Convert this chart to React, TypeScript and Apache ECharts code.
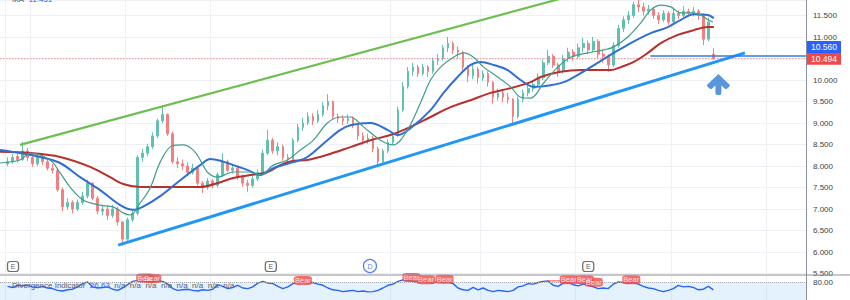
import React, { useEffect, useRef } from 'react';
import * as echarts from 'echarts';

const FONT = '"Liberation Sans", Arial, sans-serif';

// category slots (daily bars); labels are hidden in the picture
const barIndex: string[] = Array.from({ length: 161 }, (_, i) => String(i));

// [open, close, low, high]
const candles: any[] = [
  '-',
  [8.05, 8.10, 8.00, 8.20], [8.10, 8.20, 8.05, 8.28], [8.22, 8.15, 8.08, 8.30], [8.15, 8.35, 8.12, 8.56],
  [8.35, 8.20, 8.12, 8.42], [8.20, 8.05, 7.98, 8.25], [8.05, 8.20, 8.00, 8.28], [8.20, 8.10, 8.02, 8.26],
  [8.10, 7.95, 7.90, 8.18], [7.95, 7.90, 7.82, 8.05], [7.90, 7.45, 7.40, 7.95], [7.45, 7.05, 6.95, 7.50],
  [7.05, 7.15, 6.98, 7.25], [7.15, 7.00, 6.90, 7.20], [7.00, 7.15, 6.95, 7.22], [7.15, 7.30, 7.10, 7.40],
  [7.30, 7.60, 7.25, 7.68], [7.60, 7.25, 7.20, 7.62], [7.25, 6.95, 6.88, 7.30], [6.95, 7.00, 6.85, 7.10],
  [7.00, 6.85, 6.75, 7.08], [6.85, 7.00, 6.80, 7.10], [7.00, 6.70, 6.62, 7.05], [6.70, 6.30, 6.15, 6.72],
  [6.30, 6.75, 6.25, 6.80], [6.75, 6.90, 6.70, 7.00], [6.90, 8.20, 6.85, 8.25], [8.20, 8.30, 8.10, 8.40],
  [8.30, 8.45, 8.22, 8.52], [8.45, 8.70, 8.40, 8.78], [8.70, 9.05, 8.65, 9.10], [9.05, 9.20, 9.00, 9.42],
  [9.20, 8.75, 8.70, 9.22], [8.75, 8.10, 8.05, 8.80], [8.10, 8.05, 7.95, 8.20], [8.05, 8.00, 7.90, 8.15],
  [8.00, 7.85, 7.78, 8.08], [7.85, 7.95, 7.80, 8.05], [7.95, 7.60, 7.55, 7.98], [7.60, 7.50, 7.37, 7.65],
  [7.50, 7.65, 7.45, 7.72], [7.65, 7.55, 7.48, 7.70], [7.55, 7.80, 7.50, 7.85], [7.80, 8.10, 7.75, 8.30],
  [8.10, 7.90, 7.85, 8.15], [7.90, 7.95, 7.82, 8.05], [7.95, 7.75, 7.68, 8.00], [7.75, 7.60, 7.52, 7.80],
  [7.60, 7.55, 7.40, 7.68], [7.55, 7.70, 7.50, 7.78], [7.70, 7.85, 7.65, 7.92], [7.85, 8.30, 7.82, 8.38],
  [8.30, 8.60, 8.25, 8.84], [8.60, 8.35, 8.28, 8.65], [8.35, 8.45, 8.25, 8.55], [8.45, 8.20, 8.12, 8.50],
  [8.20, 8.15, 8.02, 8.28], [8.15, 8.60, 8.10, 8.65], [8.60, 8.90, 8.55, 8.98], [8.90, 9.00, 8.82, 9.12],
  [9.00, 9.15, 8.95, 9.25], [9.15, 9.05, 8.95, 9.22], [9.05, 9.20, 9.00, 9.30], [9.20, 9.40, 9.15, 9.48],
  [9.40, 9.50, 9.30, 9.67], [9.50, 9.15, 9.08, 9.52], [9.15, 9.10, 9.00, 9.22], [9.10, 9.05, 8.95, 9.18],
  [9.05, 9.10, 8.98, 9.20], [9.10, 8.95, 8.88, 9.15], [8.95, 8.70, 8.60, 8.98], [8.70, 8.60, 8.50, 8.78],
  [8.60, 8.65, 8.52, 8.75], [8.65, 8.40, 8.32, 8.70], [8.40, 8.10, 8.00, 8.45], [8.10, 8.35, 8.05, 8.40],
  [8.35, 8.55, 8.30, 8.62], [8.55, 8.70, 8.50, 8.78], [8.70, 9.30, 8.68, 9.38], [9.30, 9.85, 9.25, 9.95],
  [9.85, 10.20, 9.80, 10.30], [10.20, 10.30, 10.10, 10.40], [10.30, 10.15, 10.07, 10.35], [10.15, 10.30, 10.10, 10.38],
  [10.30, 10.20, 10.07, 10.35], [10.20, 10.45, 10.15, 10.52], [10.45, 10.50, 10.35, 10.60], [10.50, 10.75, 10.45, 10.82],
  [10.75, 10.85, 10.65, 11.00], [10.85, 10.70, 10.60, 10.90], [10.70, 10.65, 10.50, 10.78], [10.65, 10.30, 10.22, 10.68],
  [10.30, 10.10, 9.95, 10.35], [10.10, 10.25, 10.02, 10.35], [10.25, 10.05, 9.92, 10.30], [10.05, 10.15, 9.98, 10.22],
  [10.15, 9.95, 9.85, 10.20], [9.95, 9.60, 9.45, 9.98], [9.60, 9.70, 9.52, 9.80], [9.70, 9.60, 9.48, 9.78],
  [9.60, 9.55, 9.45, 9.70], [9.55, 9.15, 9.00, 9.58], [9.15, 9.55, 9.10, 9.62], [9.55, 9.70, 9.48, 9.78],
  [9.70, 9.80, 9.62, 9.92], [9.80, 9.90, 9.72, 10.00], [9.90, 10.05, 9.85, 10.15], [10.05, 10.40, 10.00, 10.48],
  [10.40, 10.55, 10.35, 10.70], [10.55, 10.35, 10.28, 10.60], [10.35, 10.20, 10.07, 10.40], [10.20, 10.50, 10.15, 10.58],
  [10.50, 10.65, 10.42, 10.75], [10.65, 10.55, 10.45, 10.72], [10.55, 10.75, 10.50, 10.85], [10.75, 10.85, 10.65, 10.98],
  [10.85, 10.70, 10.60, 10.92], [10.70, 10.90, 10.65, 11.00], [10.90, 10.60, 10.50, 10.95], [10.60, 10.55, 10.40, 10.68],
  [10.55, 10.35, 10.19, 10.60], [10.35, 10.80, 10.30, 10.88], [10.80, 11.20, 10.75, 11.28], [11.20, 11.40, 11.12, 11.48],
  [11.40, 11.50, 11.30, 11.60], [11.50, 11.75, 11.45, 11.82], [11.75, 11.70, 11.58, 11.88], [11.70, 11.60, 11.50, 11.80],
  [11.60, 11.65, 11.52, 11.75], [11.65, 11.50, 11.42, 11.70], [11.50, 11.40, 11.30, 11.58], [11.40, 11.55, 11.35, 11.62],
  [11.55, 11.35, 11.28, 11.60], [11.35, 11.55, 11.30, 11.65], [11.55, 11.50, 11.42, 11.62], [11.50, 11.60, 11.45, 11.72],
  [11.60, 11.55, 11.48, 11.66], [11.55, 11.60, 11.48, 11.70], [11.60, 11.50, 11.40, 11.65], [11.50, 10.95, 10.81, 11.55],
  [10.95, 11.35, 10.90, 11.45], [10.60, 10.494, 10.47, 10.74],
];

// moving averages, [bar position, value]
const maFast: number[][] = [
  [-0.5, 8.07], [3.5, 8.14], [5.5, 8.30], [9.5, 8.14], [11.5, 7.84], [13.5, 7.51], [16.1, 7.21], [19.5, 7.09],
  [22.1, 7.05], [24.1, 6.91], [25.5, 6.86], [27.5, 7.14], [29.5, 7.49], [31.5, 8.09], [33.9, 8.47], [36.1, 8.49],
  [38.1, 8.37], [39.5, 8.14], [40.9, 7.86], [42.9, 7.74], [46.1, 7.86], [49.5, 7.86], [51.5, 7.79], [54.1, 8.02],
  [56.9, 8.14], [59.5, 8.37], [62.1, 8.60], [64.9, 9.00], [67.5, 9.14], [69.5, 9.14], [72.1, 8.91], [75.5, 8.60],
  [78.1, 8.49], [80.9, 8.84], [83.5, 9.47], [85.5, 10.00], [87.5, 10.30], [90.1, 10.53], [92.1, 10.63], [94.1, 10.53],
  [96.1, 10.30], [98.9, 10.07], [101.5, 9.84], [103.5, 9.60], [105.5, 9.58], [108.1, 9.93], [110.9, 10.30], [113.5, 10.53],
  [116.9, 10.63], [120.1, 10.70], [122.1, 10.77], [124.9, 11.00], [127.5, 11.33], [129.5, 11.63], [131.5, 11.74],
  [133.5, 11.70], [135.5, 11.56], [137.5, 11.56], [139.5, 11.51], [140.9, 11.40], [141.9, 11.35],
];
const maMid: number[][] = [
  [-0.5, 8.37], [3.5, 8.30], [7.5, 8.21], [11.5, 8.07], [15.5, 7.74], [19.5, 7.44], [23.5, 7.09], [26.1, 6.98],
  [28.0, 7.05], [31.5, 7.30], [35.5, 7.67], [39.5, 8.02], [41.5, 8.16], [43.5, 8.12], [46.1, 8.02], [48.9, 7.91],
  [51.5, 7.79], [54.1, 7.95], [58.1, 8.09], [60.9, 8.21], [64.9, 8.60], [67.5, 8.84], [69.5, 8.95], [73.5, 9.00],
  [76.9, 8.84], [78.9, 8.72], [81.5, 8.88], [85.5, 9.30], [88.1, 9.70], [90.9, 10.07], [93.5, 10.35], [95.5, 10.42],
  [98.1, 10.35], [100.9, 10.23], [103.5, 10.00], [106.1, 9.84], [109.5, 9.88], [112.1, 9.95], [115.5, 10.16],
  [118.9, 10.40], [122.1, 10.63], [125.5, 10.86], [129.5, 11.09], [132.9, 11.23], [135.5, 11.40], [138.1, 11.53],
  [140.9, 11.51], [142.1, 11.44],
];
const maSlow: number[][] = [
  [-0.5, 8.33], [5.5, 8.30], [11.5, 8.21], [17.5, 7.98], [21.5, 7.74], [24.1, 7.58], [27.5, 7.51], [32.9, 7.51],
  [39.5, 7.51], [42.9, 7.60], [46.1, 7.72], [49.5, 7.79], [52.9, 7.86], [55.5, 8.02], [58.1, 8.12], [60.9, 8.14],
  [64.9, 8.26], [69.5, 8.44], [73.5, 8.60], [77.5, 8.72], [81.5, 8.91], [85.5, 9.14], [89.5, 9.37], [93.5, 9.53],
  [97.5, 9.70], [101.5, 9.81], [105.5, 9.95], [107.5, 10.07], [111.5, 10.19], [115.5, 10.23], [119.5, 10.23],
  [121.5, 10.23], [123.5, 10.30], [126.1, 10.42], [128.9, 10.63], [131.5, 10.86], [134.9, 11.05], [138.1, 11.16],
  [140.9, 11.23], [142.1, 11.23],
];

// drawn trend lines and price lines
const greenTrend: number[][] = [[3.5, 8.49], [120, 12.16]];
const blueTrend: number[][] = [[23.1, 6.16], [148.3, 10.63]];
const lastPrice = 10.494;
const bidPrice = 10.56;
const lastLine: number[][] = [[-0.5, lastPrice], [160.5, lastPrice]];
const bidLine: number[][] = [[129.4, bidPrice], [160.5, bidPrice]];
const arrowPoint: number[][] = [[143.0, 9.895]];
const earnings: number[][] = [[2.1, 5.663], [53.6, 5.663], [117.0, 5.663]];
const dividends: number[][] = [[73.4, 5.674]];
const monthStarts: number[] = [1, 6, 25, 42, 78, 96, 115, 134, 153];

// divergence indicator panel
const divergence: any[] = [
  '-',
  72.7, 70.9, 74.5, 73.6, 74.5, 71.8, 70.9, 72.7, 70.0, 69.0, 66.0, 65.0, 67.0, 68.0, 71.8, 77.3,
  80.0, 71.8, 70.0, 70.9, 71.8, 68.0, 66.0, 70.0, 75.5, 81.0, 82.7, 81.0, 81.8, 80.0, 81.8, 81.0,
  76.4, 69.0, 66.0, 67.0, 68.0, 66.0, 65.0, 67.0, 66.0, 68.0, 75.5, 72.7, 69.0, 70.9, 74.5, 70.0,
  69.0, 71.8, 78.2, 81.0, 78.2, 77.3, 72.7, 69.0, 71.8, 77.3, 79.1, 80.0, 78.2, 79.1, 76.4, 74.5,
  70.0, 67.0, 66.0, 64.0, 65.0, 66.0, 64.0, 65.0, 63.6, 64.0, 66.0, 70.0, 74.5, 76.4, 81.0, 83.6,
  82.7, 81.0, 79.1, 81.8, 80.0, 78.2, 81.0, 79.1, 80.0, 77.3, 70.0, 67.0, 66.0, 70.9, 67.0, 70.0,
  66.0, 64.0, 66.0, 65.0, 64.0, 66.0, 71.8, 73.6, 77.3, 76.4, 79.1, 81.0, 81.8, 74.5, 72.7, 78.2,
  79.1, 75.5, 73.6, 76.4, 74.5, 71.8, 69.0, 70.0, 69.0, 76.4, 80.0, 79.1, 78.2, 79.1, 76.4, 72.7,
  70.0, 69.0, 66.0, 64.0, 66.0, 69.0, 74.5, 71.8, 72.7, 70.9, 67.0, 68.0, 72.7, 67.0,
];
const bearLabels: number[][] = [
  [28.5, 86.6], [29.9, 86.0], [60.0, 82.3], [81.7, 87.3], [84.6, 83.6],
  [88.3, 84.5], [113.1, 83.6], [116.3, 83.6], [118.1, 79.5], [125.6, 83.6],
];
const bearLink: number[][] = [[108.8, 81.8], [111.8, 81.8]];

const ARROW =
  'path://M12,0 L23,11 Q24,12 23,13 L20.5,15.5 Q19.5,16.5 18.5,15.5 L15,12 L15,20 Q15,22 13,22 L11,22 Q9,22 9,20 L9,12 L5.5,15.5 Q4.5,16.5 3.5,15.5 L1,13 Q0,12 1,11 Z';

export default function App() {
  const ref = useRef<HTMLDivElement>(null);

  useEffect(() => {
    document.body.style.margin = '0';
    if (!ref.current) return;
    const chart = echarts.init(ref.current, undefined, { renderer: 'svg' });
    const gridLine = { show: true, lineStyle: { color: '#edf1f6', width: 1 } };
    const catAxis = (gridIndex: number) => ({
      type: 'category',
      gridIndex,
      data: barIndex,
      boundaryGap: true,
      axisLine: { show: false },
      axisTick: { show: false },
      axisLabel: { show: false },
      splitLine: { ...gridLine, interval: (i: number) => monthStarts.includes(i) },
    });
    const valAxis = (gridIndex: number) => ({
      type: 'value',
      gridIndex,
      min: -0.5,
      max: 160.5,
      show: false,
    });
    const lineSeries = (data: number[][], color: string, width: number, z: number, smooth: any = 0.35) => ({
      type: 'line',
      xAxisIndex: 1,
      yAxisIndex: 0,
      data,
      smooth,
      showSymbol: false,
      silent: true,
      z,
      lineStyle: { color, width },
    });
    const priceTag = (text: string, bg: string, offsetY: number) => ({
      show: true,
      distance: 1,
      offset: [0, offsetY],
      formatter: text,
      backgroundColor: bg,
      color: '#ffffff',
      fontSize: 8.5,
      fontFamily: FONT,
      padding: [2, 4, 1, 4],
      lineHeight: 9,
    });

    chart.setOption({
      animation: false,
      backgroundColor: '#ffffff',
      textStyle: { fontFamily: FONT },
      grid: [
        { left: 0, top: 0, width: 806, height: 273.5 },
        { left: 0, top: 276, width: 806, height: 44 },
      ],
      xAxis: [catAxis(0), valAxis(0), catAxis(1), valAxis(1)],
      yAxis: [
        {
          type: 'value',
          gridIndex: 0,
          position: 'right',
          min: 5.5,
          max: 11.8605,
          interval: 0.5,
          axisLine: { show: false },
          axisTick: { show: false },
          axisLabel: {
            showMaxLabel: false,
            margin: 7,
            fontSize: 8,
            fontFamily: FONT,
            color: '#3c3f47',
            formatter: (v: number) => v.toFixed(3),
          },
          splitLine: { show: true, lineStyle: { color: '#edf1f6', width: 1 } },
        },
        {
          type: 'value',
          gridIndex: 1,
          position: 'right',
          min: 50,
          max: 90,
          interval: 10,
          axisLine: { show: false },
          axisTick: { show: false },
          splitLine: { show: false },
          axisLabel: {
            margin: 7,
            fontSize: 8,
            fontFamily: FONT,
            color: '#3c3f47',
            padding: [0, 0, 8, 0],
            formatter: (v: number) => (v === 80 ? '80.00' : ''),
          },
        },
      ],
      series: [
        {
          type: 'candlestick',
          xAxisIndex: 0,
          yAxisIndex: 0,
          data: candles,
          barWidth: 2.2,
          z: 2,
          itemStyle: {
            color: '#62c0b2',
            color0: '#f28080',
            borderColor: '#62c0b2',
            borderColor0: '#f28080',
            borderWidth: 1,
          },
        },
        {
          ...lineSeries(lastLine, '#f08a8a', 1, 3, false),
          lineStyle: { color: '#f08a8a', width: 1, type: [1.5, 1.5] },
          endLabel: priceTag(lastPrice.toFixed(3), '#f04848', 0),
        },
        lineSeries(maSlow, '#b7302c', 2, 4),
        lineSeries(maMid, '#2f6fd4', 2, 5),
        lineSeries(maFast, '#3f9d8c', 1.2, 6),
        lineSeries(greenTrend, '#6cbf50', 2.2, 7, false),
        lineSeries(blueTrend, '#2196f3', 3, 7, false),
        {
          ...lineSeries(bidLine, '#2f7be8', 1.5, 8, false),
          endLabel: priceTag(bidPrice.toFixed(3), '#2962ff', -9),
        },
        {
          type: 'scatter',
          xAxisIndex: 1,
          yAxisIndex: 0,
          data: arrowPoint,
          symbol: ARROW,
          symbolSize: [23, 21],
          silent: true,
          z: 9,
          itemStyle: { color: '#2f7dd1' },
        },
        {
          type: 'scatter',
          xAxisIndex: 1,
          yAxisIndex: 0,
          data: earnings,
          symbol: 'roundRect',
          symbolSize: [11, 10],
          silent: true,
          z: 9,
          itemStyle: { color: '#ffffff', borderColor: '#4a4a4a', borderWidth: 1.2 },
          label: { show: true, position: 'inside', formatter: 'E', fontSize: 7, fontFamily: FONT, color: '#333' },
        },
        {
          type: 'scatter',
          xAxisIndex: 1,
          yAxisIndex: 0,
          data: dividends,
          symbol: 'circle',
          symbolSize: 13,
          silent: true,
          z: 9,
          itemStyle: { color: '#ffffff', borderColor: '#2962ff', borderWidth: 1.3 },
          label: { show: true, position: 'inside', formatter: 'D', fontSize: 7, fontFamily: FONT, color: '#2962ff' },
        },
        {
          type: 'line',
          xAxisIndex: 2,
          yAxisIndex: 1,
          data: divergence,
          showSymbol: false,
          silent: true,
          z: 3,
          lineStyle: { color: '#2962ff', width: 1.4 },
          markLine: {
            silent: true,
            symbol: 'none',
            data: [{ yAxis: 80 }],
            lineStyle: { type: 'dotted', color: '#a3a8b3', width: 1 },
            label: { show: false },
          },
          markArea: {
            silent: true,
            itemStyle: { color: 'rgba(33,150,243,0.12)' },
            data: [[{ yAxis: 80 }, { yAxis: 20 }]],
          },
        },
        {
          type: 'line',
          xAxisIndex: 3,
          yAxisIndex: 1,
          data: bearLink,
          showSymbol: false,
          silent: true,
          z: 4,
          lineStyle: { color: '#f04848', width: 1 },
        },
        {
          type: 'scatter',
          xAxisIndex: 3,
          yAxisIndex: 1,
          data: bearLabels,
          symbol: 'roundRect',
          symbolSize: [18, 9],
          clip: false,
          silent: true,
          z: 6,
          itemStyle: { color: '#f04848' },
          label: {
            show: true,
            position: 'inside',
            formatter: 'Bear',
            fontSize: 7.5,
            fontFamily: FONT,
            color: '#ffffff',
          },
        },
      ],
      graphic: [
        { type: 'line', silent: true, z: 50, shape: { x1: 0, y1: 275, x2: 850, y2: 275 }, style: { stroke: '#8a8e97', lineWidth: 1 } },
        { type: 'line', silent: true, z: 50, shape: { x1: 806.5, y1: 0, x2: 806.5, y2: 300 }, style: { stroke: '#8a8e97', lineWidth: 1 } },
        {
          type: 'text',
          silent: true,
          z: 50,
          x: 12,
          y: -1,
          style: {
            text: '{a|MA}  {b|11.451}',
            verticalAlign: 'middle',
            font: `8px ${FONT}`,
            rich: {
              a: { fill: '#555', fontSize: 8, fontFamily: FONT },
              b: { fill: '#2962ff', fontSize: 8, fontFamily: FONT },
            },
          },
        },
        {
          type: 'text',
          silent: true,
          z: 5,
          x: 12,
          y: 285.5,
          style: {
            text: '{a|Divergence Indicator}  {b|26.63}  {a|n/a  n/a  n/a  n/a  n/a  n/a  n/a  n/a}',
            verticalAlign: 'middle',
            font: `8px ${FONT}`,
            rich: {
              a: { fill: '#5d606b', fontSize: 8, fontFamily: FONT },
              b: { fill: '#2962ff', fontSize: 8, fontFamily: FONT },
            },
          },
        },
      ],
    });

    return () => chart.dispose();
  }, []);

  return <div ref={ref} style={{ width: 850, height: 300 }} />;
}
